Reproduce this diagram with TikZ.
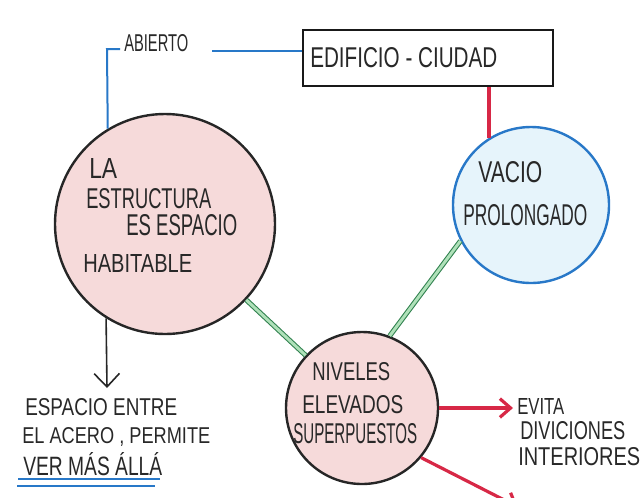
\documentclass[tikz,border=0pt]{standalone}
\usepackage{fontspec}
\setmainfont{Liberation Sans}
\usepackage{graphicx}
\usetikzlibrary{arrows.meta}
\newdimen\pxu \pxu=0.75pt
\newcommand\hw[3]{\resizebox{#1\pxu}{#2\pxu}{#3}}
\definecolor{pinkfill}{RGB}{246,218,218}
\definecolor{bluefill}{RGB}{230,244,251}
\definecolor{bluel}{RGB}{40,120,200}
\definecolor{redl}{RGB}{215,40,70}
\definecolor{greenl}{RGB}{50,130,80}
\definecolor{greenin}{RGB}{175,225,185}
\definecolor{ink}{RGB}{40,40,40}
\tikzset{
 lbl/.style={anchor=base west, inner sep=0pt, text=ink},
 pinkcirc/.style={circle, draw=black!85, line width=1.8pt, fill=pinkfill, inner sep=0pt},
 bluecirc/.style={circle, draw=bluel, line width=1.8pt, fill=bluefill, inner sep=0pt},
 blueline/.style={draw=bluel, line width=1.5pt},
 redline/.style={draw=redl, line width=2.4pt},
 greenline/.style={draw=greenl, line width=0.8pt, double=greenin, double distance=2.2pt},
 titlebox/.style={draw=black!90, line width=1.5pt, fill=white, inner sep=0pt},
 barb/.style={-{Straight Barb[length=8pt,width=14pt]}},
 bigbarb/.style={-{Straight Barb[length=10pt,width=19pt]}},
}
\begin{document}
\begin{tikzpicture}[x=0.75pt,y=-0.75pt]
\useasboundingbox (0,0) rectangle (641,497);
\clip (0,0) rectangle (641,497);
% nodes
\node[titlebox, minimum width=250\pxu, minimum height=56\pxu] (box) at (428,58) {};
\node[pinkcirc, minimum size=220\pxu] (c1) at (165,224) {};
\node[bluecirc, minimum size=156\pxu] (c2) at (531,205) {};
\node[pinkcirc, minimum size=152\pxu] (c3) at (362,408) {};
% texts
\node[lbl] (tbox) at (310,67) {\hw{187}{20}{EDIFICIO - CIUDAD}};
\node[lbl] (tab) at (124,51) {\hw{64}{17}{ABIERTO}};
\node[lbl] (t1a) at (89,178) {\hw{28}{20}{LA}};
\node[lbl] (t1b) at (86,208) {\hw{125}{20}{ESTRUCTURA}};
\node[lbl] (t1c) at (126,235) {\hw{111}{21}{ES ESPACIO}};
\node[lbl] (t1d) at (83,272) {\hw{109}{18}{HABITABLE}};
\node[lbl] (t2a) at (478,182) {\hw{64}{21}{VACIO}};
\node[lbl] (t2b) at (463,225) {\hw{124}{21}{PROLONGADO}};
\node[lbl] (t3a) at (312,380) {\hw{78}{18}{NIVELES}};
\node[lbl] (t3b) at (302,413) {\hw{101}{18}{ELEVADOS}};
\node[lbl] (t3c) at (293,443) {\hw{124}{20}{SUPERPUESTOS}};
\node[lbl] (t4a) at (25,415) {\hw{152}{17}{ESPACIO ENTRE}};
\node[lbl] (t4b) at (22,443) {\hw{188}{16}{EL ACERO , PERMITE}};
\node[lbl] (t4c) at (23,475) {\hw{139}{23}{VER MÁS ÁLLÁ}};
\node[lbl] (t5a) at (517,414) {\hw{47}{16}{EVITA}};
\node[lbl] (t5b) at (520,439) {\hw{105}{18}{DIVICIONES}};
\node[lbl] (t5c) at (518,465) {\hw{122}{18}{INTERIORES}};
% coordinates
\coordinate (abR) at (212,51);
\coordinate (abL) at (120,49);
\coordinate (abK) at (107,49);
\coordinate (arrTip) at (107,388);
\coordinate (evTip) at (513,408);
\coordinate (cutEnd) at (518,507);
\coordinate (u1a) at (18,479); \coordinate (u1b) at (160,479);
\coordinate (u2a) at (17,486); \coordinate (u2b) at (155,486);
% connectors
\draw[blueline] (box.west |- abR) -- (abR);
\draw[blueline] (abL) -- (abK) -- (c1.121.8);
\draw[draw=black!85, line width=1.2pt, bigbarb] (c1.238.2) -- (arrTip);
\draw[greenline] (c1) -- (c3);
\draw[greenline] (c3.69) -- (c2.207);
\draw[redline] (c2.122) -- (c2.122 |- box.south);
\draw[redline, barb] (c3.east) -- (evTip);
\draw[redline, barb] (c3.-40) -- (cutEnd);
\draw[blueline, line width=1.2pt] (u1a) -- (u1b);
\draw[blueline, line width=1.2pt] (u2a) -- (u2b);
\end{tikzpicture}
\end{document}
